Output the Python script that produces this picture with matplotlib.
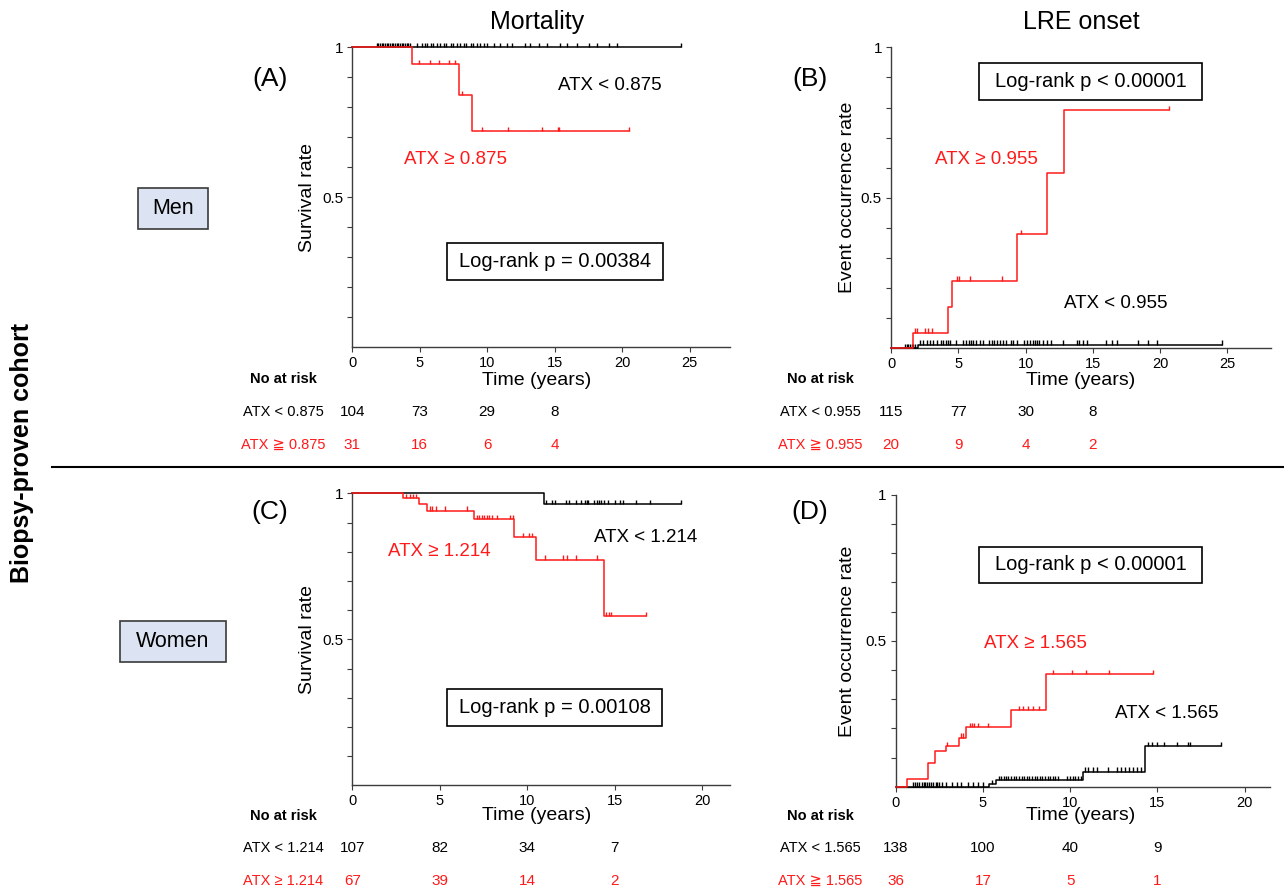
"""Kaplan-Meier panels: ATX cut-offs for mortality and LRE onset (men / women)."""
import numpy as np
import matplotlib
matplotlib.use("Agg")
import matplotlib.pyplot as plt
from matplotlib.ticker import FixedLocator, FuncFormatter
from matplotlib.patches import Rectangle
from matplotlib.transforms import blended_transform_factory

W, H = 1284, 892
RED = "#ff1a1a"
AXC = "#3c3c3c"
plt.rcParams["font.family"] = ["Liberation Sans", "DejaVu Sans"]

# ---------------- data ----------------
# (A) mortality, men
a_lo_t, a_lo_s, a_lo_end = [0], [1.0], 24.4
a_lo_cens = [1.81, 1.94, 2.06, 2.18, 2.3, 2.43, 2.55, 2.68, 2.8, 2.92, 3.05, 3.17,
             3.29, 3.42, 3.54, 3.67, 3.79, 3.91, 4.04, 4.16, 4.28, 4.78, 5.13, 5.41,
             5.55, 5.8, 5.98, 6.3, 6.49, 6.8, 6.95, 7.28, 7.46, 7.77, 7.96, 8.27, 8.45,
             8.78, 8.93, 9.26, 9.45, 9.77, 9.95, 10.47, 10.96, 11.46, 11.83, 12.82,
             13.2, 13.81, 14.43, 15.42, 15.91, 16.66, 17.52, 18.14, 19.01, 19.63, 24.4]
a_hi_t = [0, 4.41, 7.90, 8.84]
a_hi_s = [1.0, 0.944, 0.840, 0.721]
a_hi_end = 20.54
a_hi_cens = [4.98, 5.77, 6.46, 7.2, 7.65, 8.14, 9.63, 11.51, 14.03, 15.22, 15.32, 20.54]

# (B) LRE onset, men (cumulative event rate)
b_lo_t, b_lo_s, b_lo_end = [0, 2.03], [0.0, 0.012], 24.59
b_lo_cens = [1.04, 1.16, 1.29, 1.41, 1.54, 1.66, 1.78,
             2.15, 2.4, 2.65, 2.9, 3.15, 3.4, 3.7, 3.89, 4.09, 4.26, 4.39, 4.83, 5.38,
             5.58, 5.78, 5.92, 6.12, 6.32, 6.62, 6.81, 7.31, 7.48, 7.66, 7.86, 8.1,
             8.35, 8.55, 8.92, 9.1, 9.34, 9.89, 10.14, 10.33, 10.53, 10.73, 10.88,
             11.03, 11.28, 11.58, 11.87, 12.81, 13.81, 14.0, 14.25, 14.55, 15.98,
             16.41, 16.78, 18.32, 19.13, 19.76, 24.59]
b_hi_t = [0, 1.64, 4.26, 4.51, 9.37, 11.6, 12.89]
b_hi_s = [0.0, 0.052, 0.138, 0.225, 0.379, 0.584, 0.791]
b_hi_end = 20.67
b_hi_cens = [1.78, 1.91, 2.53, 2.73, 3.02, 4.93, 5.08, 5.87, 8.23, 9.64, 20.67]

# (C) mortality, women
c_lo_t, c_lo_s, c_lo_end = [0, 10.97], [1.0, 0.963], 18.78
c_lo_cens = [11.1, 11.4, 11.6, 12.2, 12.4, 12.8, 13.1, 13.3, 13.4, 13.5, 13.8, 14.0,
             14.1, 14.25, 14.4, 14.6, 15.0, 15.3, 15.5, 16.25, 17.0, 18.78]
c_hi_t = [0, 2.9, 3.83, 4.3, 6.97, 9.26, 10.5, 14.38]
c_hi_s = [1.0, 0.983, 0.963, 0.94, 0.912, 0.849, 0.772, 0.58]
c_hi_end = 16.8
c_hi_cens = [3.07, 3.3, 3.49, 3.64, 4.44, 4.54, 4.78, 5.3, 6.54, 7.11, 7.26, 7.39,
             7.53, 7.68, 7.83, 7.97, 8.25, 9.01, 9.17, 9.77, 10.1, 10.25, 11.0, 12.06,
             12.3, 12.8, 14.0, 14.5, 14.7, 14.8, 16.8]

# (D) LRE onset, women
d_lo_t = [0, 5.33, 5.76, 10.76, 14.3]
d_lo_s = [0.0, 0.008, 0.023, 0.051, 0.139]
d_lo_end = 18.65
d_lo_cens = [1.01, 1.1, 1.2, 1.35, 1.49, 1.6, 1.68, 1.8, 1.93, 2.05, 2.16, 2.3, 2.39,
             2.5, 2.64, 2.9, 3.2, 3.5, 3.77, 4.16, 4.45, 4.73, 5.02, 5.5,
             5.9, 6.04, 6.2, 6.31, 6.46, 6.6, 6.77, 6.9, 7.04, 7.21, 7.35, 7.52, 7.64,
             7.8, 7.96, 8.1, 8.26, 8.4, 8.55, 8.71, 8.86, 9.0, 9.14, 9.3, 9.82, 10.0,
             10.17, 10.3, 10.46, 10.62, 10.85, 11.04, 11.29, 11.52, 12.18, 12.66,
             12.89, 13.14, 13.38, 13.58, 13.81, 14.04, 14.44, 14.67, 14.96, 15.38,
             16.1, 16.77, 16.87, 18.65]
d_hi_t = [0, 0.63, 1.83, 2.25, 2.88, 3.65, 4.01, 6.63, 8.6]
d_hi_s = [0.0, 0.026, 0.082, 0.122, 0.139, 0.168, 0.203, 0.262, 0.386]
d_hi_end = 14.76
d_hi_cens = [2.95, 3.77, 3.85, 4.23, 4.38, 4.51, 4.70, 5.27, 7.08, 7.27, 7.56, 7.84,
             8.22, 9.02, 10.13, 10.93, 12.23, 14.76]

# numbers at risk
risk_times = [0, 5, 10, 15]
a_risk_lo, a_risk_hi = [104, 73, 29, 8], [31, 16, 6, 4]
b_risk_lo, b_risk_hi = [115, 77, 30, 8], [20, 9, 4, 2]
c_risk_lo, c_risk_hi = [107, 82, 34, 7], [67, 39, 14, 2]
d_risk_lo, d_risk_hi = [138, 100, 40, 9], [36, 17, 5, 1]

TICK_H = 0.015


def ftext(fig, x, y, s, **kw):
    kw.setdefault("ha", "center")
    kw.setdefault("va", "center")
    return fig.text(x / W, 1 - y / H, s, **kw)


def fbox(fig, x0, x1, y0, y1, **kw):
    fig.patches.append(Rectangle((x0 / W, 1 - y1 / H), (x1 - x0) / W, (y1 - y0) / H,
                                 transform=fig.transFigure, **kw))


def make_axes(fig, l, r, top, bot, xmax, xtick_max):
    ax = fig.add_axes([l / W, 1 - bot / H, (r - l) / W, (bot - top) / H])
    ax.set_xlim(0, xmax)
    ax.set_ylim(0, 1)
    ax.patch.set_alpha(0)
    for sp in ("top", "right"):
        ax.spines[sp].set_visible(False)
    for sp in ("left", "bottom"):
        ax.spines[sp].set_color(AXC)
        ax.spines[sp].set_linewidth(1.0)
    ax.xaxis.set_major_locator(FixedLocator(list(range(0, xtick_max + 1, 5))))
    ax.yaxis.set_major_locator(FixedLocator([0.5, 1.0]))
    ax.yaxis.set_minor_locator(FixedLocator(np.arange(1, 10) / 10))
    ax.yaxis.set_major_formatter(FuncFormatter(lambda v, p: f"{v:g}"))
    ax.tick_params(which="both", direction="out", length=3.5, width=0.8,
                   color=AXC, pad=3)
    ax.tick_params(axis="x", labelsize=10.5)
    ax.tick_params(axis="y", labelsize=11)
    return ax


def draw_curve(ax, t, s, end, cens, color):
    tt = list(t) + [end]
    ss = list(s) + [s[-1]]
    ax.step(tt, ss, where="post", color=color, lw=1.1, clip_on=False, zorder=3)
    idx = np.searchsorted(t, cens, side="right") - 1
    lv = np.asarray(s)[idx]
    ax.vlines(cens, lv, lv + TICK_H, color=color, lw=1.0, clip_on=False, zorder=3)


def risk_table(fig, ax, lab_x, y_head, y1, y2, lab_lo, lab_hi, lo, hi):
    ftext(fig, lab_x, y_head, "No at risk", fontsize=10.5, fontweight="bold")
    ftext(fig, lab_x, y1, lab_lo, fontsize=10.5)
    ftext(fig, lab_x, y2, lab_hi, fontsize=10.5, color=RED)
    tr = blended_transform_factory(ax.transData, fig.transFigure)
    for t, n1, n2 in zip(risk_times, lo, hi):
        ax.text(t, 1 - y1 / H, str(n1), transform=tr, ha="center", va="center",
                fontsize=11)
        ax.text(t, 1 - y2 / H, str(n2), transform=tr, ha="center", va="center",
                fontsize=11, color=RED)


def main():
    fig = plt.figure(figsize=(W / 100, H / 100), dpi=100)

    axA = make_axes(fig, 352.3, 730, 47.3, 347.3, 28.0, 25)
    axB = make_axes(fig, 891, 1270.5, 47.3, 348.3, 28.2, 25)
    axC = make_axes(fig, 352.3, 730, 493.3, 785.3, 21.6, 20)
    axD = make_axes(fig, 895.7, 1270, 494.7, 786.7, 21.45, 20)

    draw_curve(axA, a_lo_t, a_lo_s, a_lo_end, a_lo_cens, "black")
    draw_curve(axA, a_hi_t, a_hi_s, a_hi_end, a_hi_cens, RED)
    draw_curve(axB, b_lo_t, b_lo_s, b_lo_end, b_lo_cens, "black")
    draw_curve(axB, b_hi_t, b_hi_s, b_hi_end, b_hi_cens, RED)
    draw_curve(axC, c_lo_t, c_lo_s, c_lo_end, c_lo_cens, "black")
    draw_curve(axC, c_hi_t, c_hi_s, c_hi_end, c_hi_cens, RED)
    draw_curve(axD, d_lo_t, d_lo_s, d_lo_end, d_lo_cens, "black")
    draw_curve(axD, d_hi_t, d_hi_s, d_hi_end, d_hi_cens, RED)

    # column titles and panel letters
    ftext(fig, 537, 22, "Mortality", fontsize=18)
    ftext(fig, 1081, 22, "LRE onset", fontsize=18)
    for x, y, s in [(270, 79, "(A)"), (810, 79, "(B)"), (270, 512, "(C)"), (810, 512, "(D)")]:
        ftext(fig, x, y, s, fontsize=19)

    # y labels
    ftext(fig, 308, 197, "Survival rate", fontsize=14, rotation=90)
    ftext(fig, 308, 639, "Survival rate", fontsize=14, rotation=90)
    ftext(fig, 848, 197, "Event occurrence rate", fontsize=14, rotation=90)
    ftext(fig, 848, 641, "Event occurrence rate", fontsize=14, rotation=90)

    # x labels
    for x, y in [(537, 381), (1081, 381), (537, 816), (1081, 816)]:
        ftext(fig, x, y, "Time (years)", fontsize=14)

    # group labels on curves
    ftext(fig, 610, 86, "ATX < 0.875", fontsize=13.5)
    ftext(fig, 455, 160, "ATX \u2265 0.875", fontsize=13.5, color=RED)
    ftext(fig, 986, 159, "ATX \u2265 0.955", fontsize=13.5, color=RED)
    ftext(fig, 1116, 304, "ATX < 0.955", fontsize=13.5)
    ftext(fig, 646, 537, "ATX < 1.214", fontsize=13.5)
    ftext(fig, 439, 551, "ATX \u2265 1.214", fontsize=13.5, color=RED)
    ftext(fig, 1035, 644, "ATX \u2265 1.565", fontsize=13.5, color=RED)
    ftext(fig, 1167, 713, "ATX < 1.565", fontsize=13.5)

    # log-rank boxes
    for (x0, x1, y0, y1), s in [((447, 663, 243, 280), "Log-rank p = 0.00384"),
                                ((979, 1202, 63, 100), "Log-rank p < 0.00001"),
                                ((447, 662, 689, 726), "Log-rank p = 0.00108"),
                                ((979, 1202, 547, 583), "Log-rank p < 0.00001")]:
        fbox(fig, x0, x1, y0, y1, fc="white", ec="black", lw=1.2, zorder=4)
        ftext(fig, (x0 + x1) / 2, (y0 + y1) / 2, s, fontsize=14.5, zorder=5)

    # risk tables
    risk_table(fig, axA, 283, 379, 412, 445, "ATX < 0.875", "ATX \u2267 0.875",
               a_risk_lo, a_risk_hi)
    risk_table(fig, axB, 820, 379, 412, 445, "ATX < 0.955", "ATX \u2267 0.955",
               b_risk_lo, b_risk_hi)
    risk_table(fig, axC, 283, 816, 848, 881, "ATX < 1.214", "ATX \u2265 1.214",
               c_risk_lo, c_risk_hi)
    risk_table(fig, axD, 820, 816, 848, 881, "ATX < 1.565", "ATX \u2267 1.565",
               d_risk_lo, d_risk_hi)

    # row labels
    fbox(fig, 138, 208, 188, 229, fc="#dce3f2", ec="#3a3a3a", lw=1.2)
    ftext(fig, 173, 208.5, "Men", fontsize=15.5)
    fbox(fig, 120, 226, 621, 662, fc="#dce3f2", ec="#3a3a3a", lw=1.2)
    ftext(fig, 173, 641.5, "Women", fontsize=15.5)
    ftext(fig, 22, 453, "Biopsy-proven cohort", fontsize=18, fontweight="bold",
          rotation=90)

    # divider between men and women
    fig.add_artist(plt.Line2D([52 / W, 1.0], [1 - 466.5 / H] * 2,
                              transform=fig.transFigure, color="black", lw=1.5))

    fig.savefig("out.png", dpi=100)


if __name__ == "__main__":
    main()
